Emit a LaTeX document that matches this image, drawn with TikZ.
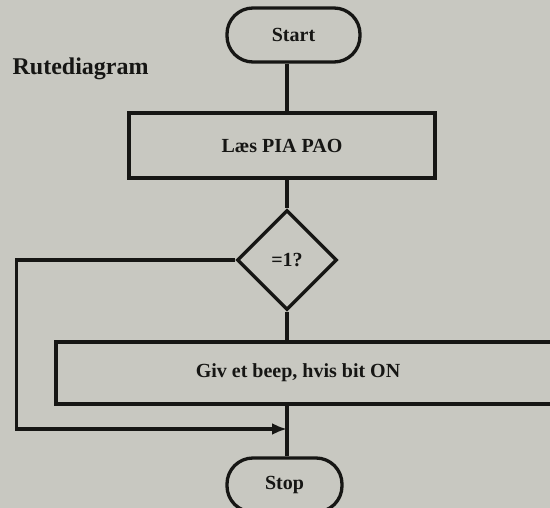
\documentclass[tikz,border=0pt]{standalone}
\usepackage{fontspec}
\setmainfont{Liberation Serif}
\usetikzlibrary{shapes.geometric,arrows.meta}
\definecolor{paper}{RGB}{200,200,193}
\definecolor{ink}{RGB}{22,22,20}
\begin{document}
\begin{tikzpicture}[x=1pt,y=-1pt,
  line width=3.3pt, draw=ink, text=ink,
  every node/.style={font=\bfseries\fontsize{20}{23}\selectfont, inner sep=0pt},
  term/.style={draw, rectangle, rounded corners=26pt, minimum height=54pt},
  proc/.style={draw, rectangle, minimum height=64pt},
  decide/.style={draw, diamond, minimum width=100pt, minimum height=100pt, shape aspect=1},
  conn/.style={draw, line width=3.3pt},
  ]
\fill[paper] (0,0) rectangle (550,508);
\clip (0,0) rectangle (550,508);
\useasboundingbox (0,0) rectangle (550,508);
\node[anchor=base west, font=\bfseries\fontsize{24}{28}\selectfont] (title) at (11,75) {Rutediagram};
\node[term, minimum width=133pt] (start) at (293.5,35) {Start};
\node[proc, minimum width=306pt, minimum height=65pt] (read) at (282,145.5) {Læs PIA PAO};
\node[decide] (dec) at (287,260) {=1?};
\node[proc, minimum width=520pt, minimum height=62pt,
      label={[font=\bfseries\fontsize{20}{23}\selectfont, xshift=-18pt]center:Giv et beep, hvis bit ON}] (act) at (316,373) {};
\node[term, minimum width=115pt] (stop) at (284.5,485) {Stop};
\coordinate (col) at (287,0);
\coordinate (merge) at (287,429);
\draw[conn] (start.south -| col) -- (read.north -| col);
\draw[conn] (read.south -| col) -- (dec.north);
\draw[conn] (dec.south) -- (act.north -| col);
\draw[conn] (act.south -| col) -- (stop.north -| col);
\draw[conn, -{Latex[length=15pt,width=12pt]}] (dec.west) -- ++(-219,0) |- (merge);
\end{tikzpicture}
\end{document}
